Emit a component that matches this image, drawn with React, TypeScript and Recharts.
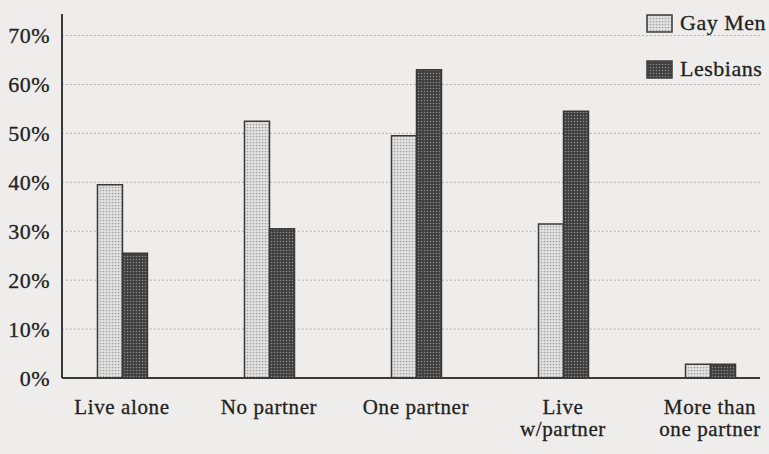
import * as React from "react";
import { Bar, BarChart, CartesianGrid, XAxis, YAxis } from "recharts";

const categories = ["Live alone", "No partner", "One partner", "Live w/partner", "More than one partner"];
const categoryLines = [["Live alone"], ["No partner"], ["One partner"], ["Live", "w/partner"], ["More than", "one partner"]];
const gayMen = [39.5, 52.5, 49.5, 31.5, 2.8];
const lesbians = [25.5, 30.5, 63, 54.5, 2.8];
const yTicks = [0, 10, 20, 30, 40, 50, 60, 70];

const data = categories.map((name, i) => ({ x: i, name, gayMen: gayMen[i], lesbians: lesbians[i] }));

const FONT = "Liberation Serif, Times New Roman, serif";
const TEXT = "#222";
const INK = "#3a3a3a";
const BG = "#eeedeb";

function Patterns() {
  return (
    <defs>
      <pattern id="gayPat" width="3" height="3" patternUnits="userSpaceOnUse">
        <rect width="3" height="3" fill="#e2e2e2" />
        <circle cx="1.5" cy="1.5" r="0.85" fill="#a0a0a0" />
      </pattern>
      <pattern id="lesPat" width="3" height="3" patternUnits="userSpaceOnUse">
        <rect width="3" height="3" fill="#3e3e3e" />
        <circle cx="1.5" cy="1.5" r="0.8" fill="#8a8a8a" />
      </pattern>
    </defs>
  );
}

function CategoryTick(props: any) {
  const { x, y, payload } = props;
  const lines = categoryLines[payload.value] ?? [];
  return (
    <text
      x={x}
      y={y}
      textAnchor="middle"
      fontFamily={FONT}
      fontSize={21}
      fill={TEXT}
      stroke={TEXT}
      strokeWidth={0.3}
      letterSpacing={0.6}
    >
      {lines.map((line, i) => (
        <tspan key={line} x={x} dy={i === 0 ? 28 : 22}>
          {line}
        </tspan>
      ))}
    </text>
  );
}

export default function App() {
  return (
    <div style={{ position: "absolute", left: 0, top: 0, width: 769, height: 454, background: BG }}>
      <BarChart
        width={769}
        height={454}
        data={data}
        margin={{ top: 14, right: 9, bottom: 46, left: 0 }}
        barGap={0}
      >
        <Patterns />
        <CartesianGrid
          vertical={false}
          stroke="#9d9d9d"
          strokeDasharray="1.5 2.5"
          horizontalValues={[10, 20, 30, 40, 50, 60, 70]}
        />
        <XAxis
          dataKey="x"
          type="number"
          height={30}
          domain={[-0.408, 4.34]}
          allowDataOverflow
          ticks={[0, 1, 2, 3, 4]}
          interval={0}
          tick={<CategoryTick />}
          tickLine={false}
          axisLine={{ stroke: INK, strokeWidth: 2 }}
        />
        <YAxis
          width={62}
          domain={[0, 74.4]}
          ticks={yTicks}
          allowDataOverflow
          interval={0}
          tickFormatter={(v) => `${v}%`}
          tick={{ fontFamily: FONT, fontSize: 22, fill: TEXT, stroke: TEXT, strokeWidth: 0.3, letterSpacing: 0.5 }}
          tickMargin={6}
          tickLine={false}
          axisLine={{ stroke: INK, strokeWidth: 2 }}
        />
        <Bar dataKey="gayMen" name="Gay Men" barSize={25} fill="url(#gayPat)" stroke={INK} strokeWidth={1.5} isAnimationActive={false} />
        <Bar dataKey="lesbians" name="Lesbians" barSize={25} fill="url(#lesPat)" stroke={INK} strokeWidth={1.5} isAnimationActive={false} />
      </BarChart>
      <div
        style={{
          position: "absolute",
          left: 646,
          top: 8,
          fontFamily: FONT,
          fontSize: 22,
          color: TEXT,
          letterSpacing: 0.5,
          WebkitTextStroke: "0.3px #222",
        }}
      >
        {[
          { label: "Gay Men", fill: "url(#gayPat)" },
          { label: "Lesbians", fill: "url(#lesPat)" },
        ].map((item) => (
          <div key={item.label} style={{ display: "flex", alignItems: "center", height: 30, marginBottom: 16 }}>
            <svg width={27} height={19} style={{ marginRight: 7 }}>
              <rect x={1} y={1} width={25} height={17} fill={item.fill} stroke={INK} strokeWidth={1.5} />
            </svg>
            <span>{item.label}</span>
          </div>
        ))}
      </div>
    </div>
  );
}
